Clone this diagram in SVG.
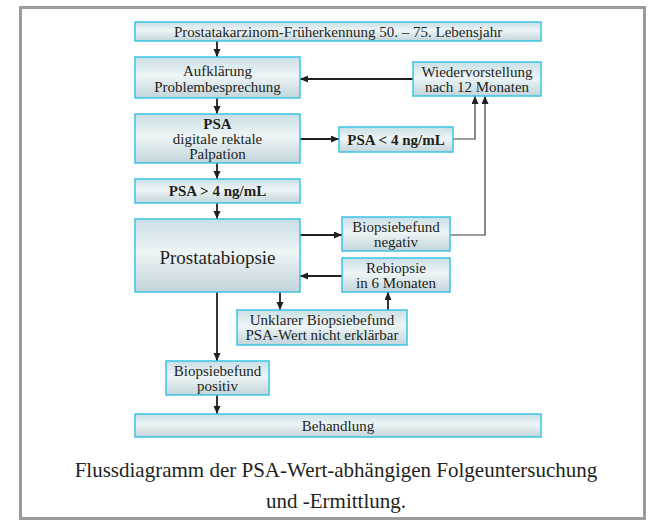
<svg xmlns="http://www.w3.org/2000/svg" width="656" height="524" viewBox="0 0 656 524">
<style>
.box{fill:url(#g);stroke:#3cc4e4;stroke-width:1.5}
.t{font-family:"Liberation Serif","Times New Roman",serif;font-size:15px;fill:#231f20;text-anchor:middle;dominant-baseline:central}
.b{font-weight:bold}
.c{stroke:#231f20;stroke-width:1.8;fill:none}
.c2{stroke:#3a3a3a;stroke-width:1.2;fill:none}
.cap{font-family:"Liberation Serif","Times New Roman",serif;font-size:21px;fill:#231f20;text-anchor:middle}
</style>
<defs>
<linearGradient id="g" x1="0" y1="0" x2="0" y2="1">
<stop offset="0" stop-color="#c9dfe6"/>
<stop offset="0.45" stop-color="#eef5f6"/>
<stop offset="1" stop-color="#c2d5db"/>
</linearGradient>
<marker id="a" markerWidth="8" markerHeight="8" refX="8" refY="3.5" orient="auto" markerUnits="userSpaceOnUse">
<path d="M0,0 L8,3.5 L0,7 z" fill="#231f20"/>
</marker>
</defs>
<rect x="0" y="0" width="656" height="524" fill="#fff"/>
<rect x="20.5" y="7.5" width="624" height="511" fill="none" stroke="#9b9b9b" stroke-width="3"/>

<g id="connectors">
<path class="c" d="M217,41 V57" marker-end="url(#a)"/>
<path class="c" d="M413,79 H300" marker-end="url(#a)"/>
<path class="c" d="M217,98 V114" marker-end="url(#a)"/>
<path class="c" d="M300,139 H339" marker-end="url(#a)"/>
<path class="c2" d="M453,139 H475 V96" marker-end="url(#a)"/>
<path class="c2" d="M450,235 H485 V96" marker-end="url(#a)"/>
<path class="c" d="M217,163 V179" marker-end="url(#a)"/>
<path class="c" d="M217,203 V219" marker-end="url(#a)"/>
<path class="c" d="M300,235 H342" marker-end="url(#a)"/>
<path class="c" d="M342,276 H300" marker-end="url(#a)"/>
<path class="c" d="M280,292 V310" marker-end="url(#a)"/>
<path class="c" d="M388,310 V292" marker-end="url(#a)"/>
<path class="c" d="M217,292 V361" marker-end="url(#a)"/>
<path class="c" d="M217,395 V414" marker-end="url(#a)"/>
</g>

<g id="n-start">
<rect class="box" x="135" y="22" width="406" height="19"/>
<text class="t" x="338" y="31.5">Prostatakarzinom-Früherkennung 50. – 75. Lebensjahr</text>
</g>
<g id="n-aufklaerung">
<rect class="box" x="135" y="57" width="165" height="41"/>
<text class="t" x="217.5" y="71">Aufklärung</text>
<text class="t" x="217.5" y="87">Problembesprechung</text>
</g>
<g id="n-wieder">
<rect class="box" x="413" y="62" width="128" height="34"/>
<text class="t" x="477" y="72">Wiedervorstellung</text>
<text class="t" x="477" y="87">nach 12 Monaten</text>
</g>
<g id="n-psa">
<rect class="box" x="135" y="114" width="165" height="49"/>
<text class="t b" x="217.5" y="124">PSA</text>
<text class="t" x="217.5" y="139">digitale rektale</text>
<text class="t" x="217.5" y="154">Palpation</text>
</g>
<g id="n-psa-low">
<rect class="box" x="339" y="127" width="114" height="25"/>
<text class="t b" x="396" y="140">PSA &lt; 4 ng/mL</text>
</g>
<g id="n-psa-high">
<rect class="box" x="135" y="179" width="165" height="24"/>
<text class="t b" x="217.5" y="191">PSA &gt; 4 ng/mL</text>
</g>
<g id="n-biopsie">
<rect class="box" x="135" y="219" width="165" height="73"/>
<text class="t" x="217.5" y="257" style="font-size:19px">Prostatabiopsie</text>
</g>
<g id="n-negativ">
<rect class="box" x="342" y="217" width="108" height="34"/>
<text class="t" x="396" y="227">Biopsiebefund</text>
<text class="t" x="396" y="242">negativ</text>
</g>
<g id="n-rebiopsie">
<rect class="box" x="342" y="258" width="108" height="34"/>
<text class="t" x="396" y="268">Rebiopsie</text>
<text class="t" x="396" y="283">in 6 Monaten</text>
</g>
<g id="n-unklar">
<rect class="box" x="237" y="310" width="170" height="35"/>
<text class="t" x="322" y="320">Unklarer Biopsiebefund</text>
<text class="t" x="322" y="335">PSA-Wert nicht erklärbar</text>
</g>
<g id="n-positiv">
<rect class="box" x="166" y="361" width="103" height="34"/>
<text class="t" x="217.5" y="371">Biopsiebefund</text>
<text class="t" x="217.5" y="386">positiv</text>
</g>
<g id="n-behandlung">
<rect class="box" x="135" y="414" width="406" height="23"/>
<text class="t" x="338" y="426">Behandlung</text>
</g>

<g id="caption">
<text class="cap" x="336" y="477">Flussdiagramm der PSA-Wert-abhängigen Folgeuntersuchung</text>
<text class="cap" x="336" y="508">und -Ermittlung.</text>
</g>
</svg>
